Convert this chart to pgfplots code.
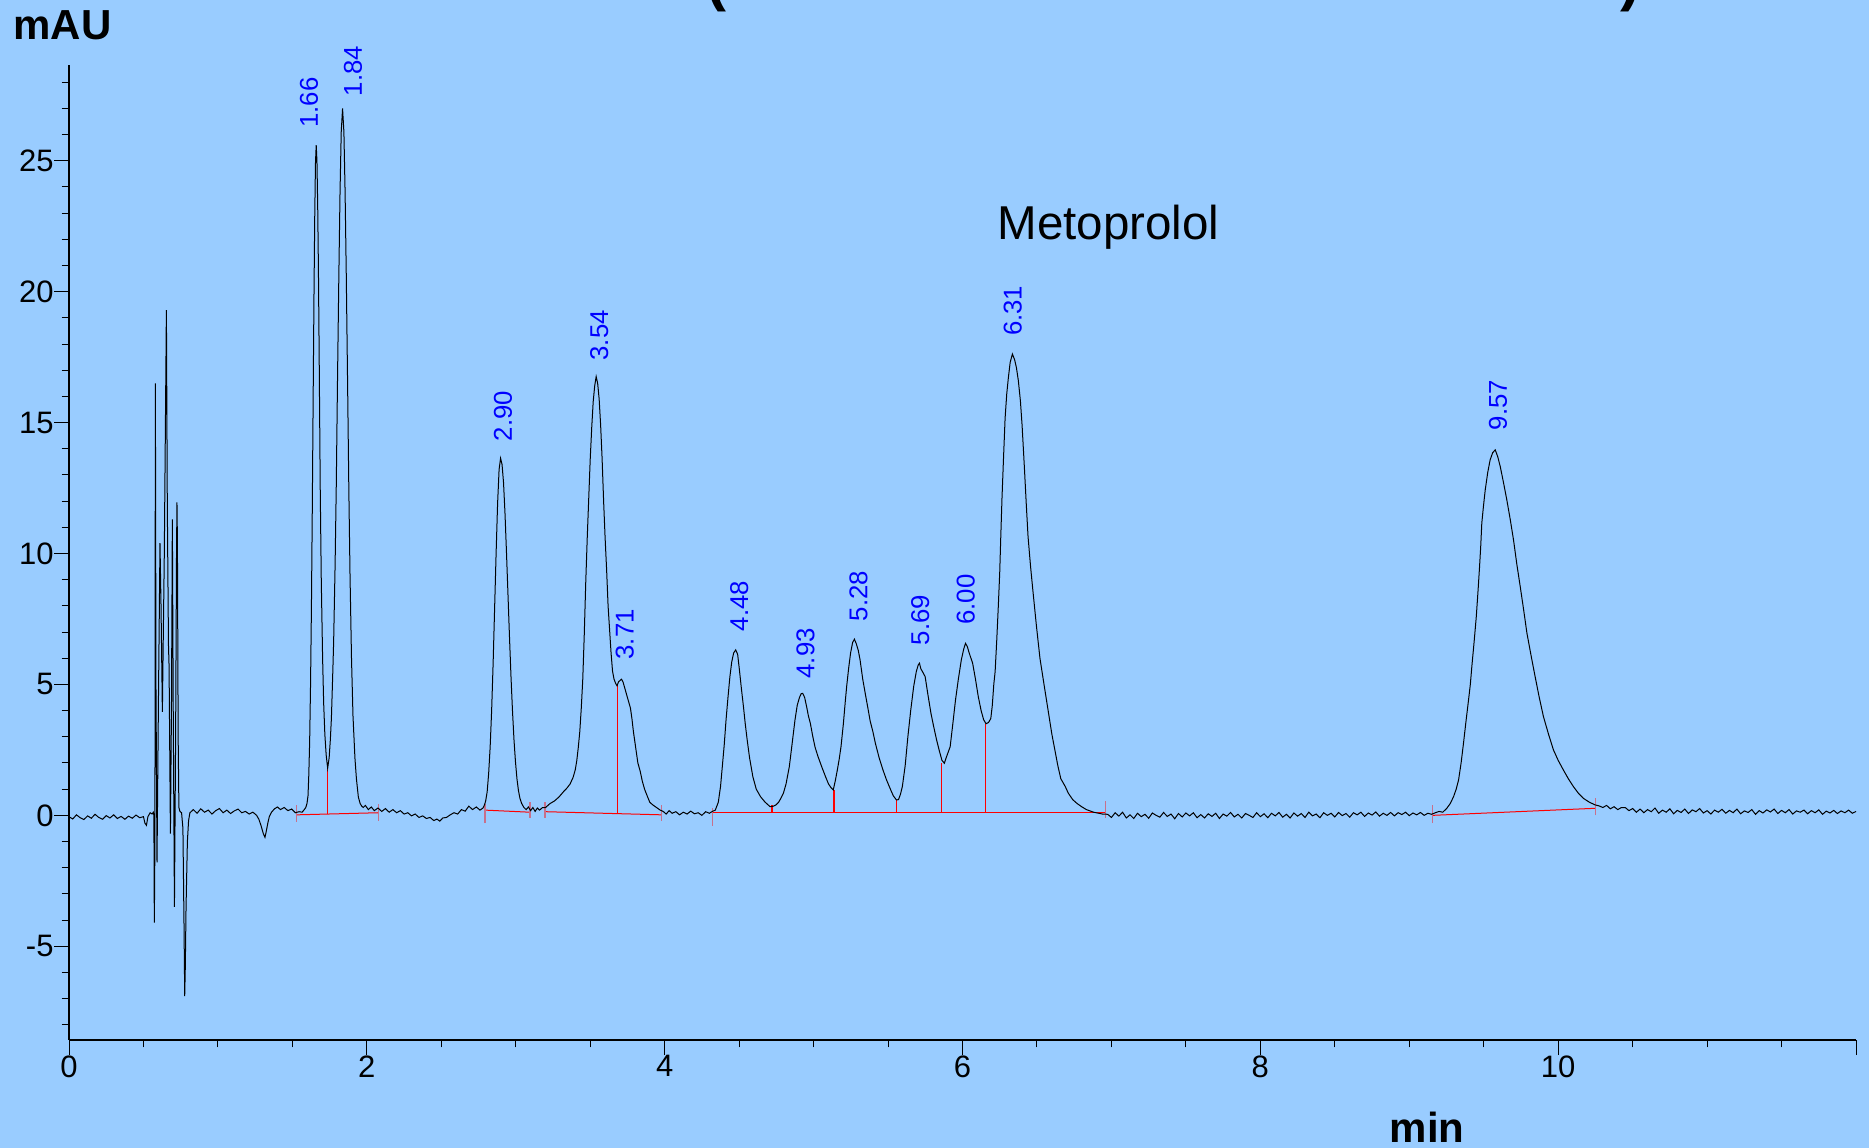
\documentclass[border=0pt]{standalone}
\usepackage{fontspec}
\setmainfont{Liberation Sans}
\usepackage{pgfplots}
\pgfplotsset{compat=1.18}
\definecolor{chartbg}{RGB}{153,204,255}
\definecolor{intred}{RGB}{255,0,0}
\definecolor{rtblue}{RGB}{0,0,255}
\colorlet{endmark}{intred!45!chartbg}

\newcommand{\rt}[3]{\node[rotate=90, anchor=west, inner sep=0pt, text=rtblue,
  font=\fontsize{10.3}{12}\selectfont] at (axis cs:#1,#2) {#3};}

\begin{document}
\begin{tikzpicture}[x=0.4pt,y=0.4pt]
\useasboundingbox (0,0) rectangle (1869,1148);
\fill[chartbg] (0,0) rectangle (1869,1148);

% title brackets: only their lower ends fall on the page
\node[anchor=base west, inner sep=0pt, font=\fontsize{24}{28}\selectfont\bfseries] at (706,1148) {(};
\node[anchor=base west, inner sep=0pt, font=\fontsize{24}{28}\selectfont\bfseries] at (1620,1148) {)};

% axis units
\node[anchor=base west, inner sep=0pt, font=\fontsize{16.8}{20}\selectfont\bfseries] at (13,1108) {mAU};
\node[anchor=base, inner sep=0pt, font=\fontsize{16.8}{20}\selectfont\bfseries] at (1427,5) {min};

\begin{axis}[
  at={(27.6pt,43.2pt)}, anchor=south west,
  scale only axis, width=714.8pt, height=390pt,
  xmin=0, xmax=12, ymin=-8.58, ymax=28.66,
  clip=false,
  axis x line*=bottom, axis y line*=left,
  x axis line style={-, line width=0.8pt},
  y axis line style={-, line width=0.5pt},
  xtick={0,2,...,12}, xticklabels={0,2,4,6,8,10,{}},
  minor xtick={0,0.5,...,12},
  ytick={-5,0,...,25},
  minor ytick={-8,-7,...,28},
  tick align=outside,
  major tick length=6pt, minor tick length=3pt,
  every tick/.style={black, line width=0.4pt},
  tick label style={font=\fontsize{12.4}{14}\selectfont, inner sep=0pt},
  /pgf/number format/assume math mode=true,
]

% integration baselines
\addplot[intred, line width=0.4pt] coordinates {(1.53,0.02)(2.078,0.1)};
\addplot[intred, line width=0.4pt] coordinates {(2.794,0.2)(3.096,0.12)};
\addplot[intred, line width=0.4pt] coordinates {(3.197,0.14)(3.98,0.02)};
\addplot[intred, line width=0.4pt] coordinates {(4.323,0.12)(6.96,0.12)};
\addplot[intred, line width=0.4pt] coordinates {(9.156,0.0)(10.25,0.27)};
% drop lines between fused peaks
\addplot[intred, line width=0.5pt] coordinates {(1.737,0.05)(1.737,1.8)};
\addplot[intred, line width=0.5pt] coordinates {(3.683,0.07)(3.683,5.0)};
\addplot[intred, line width=0.5pt] coordinates {(4.72,0.12)(4.72,0.38)};
\addplot[intred, line width=0.5pt] coordinates {(5.137,0.12)(5.137,0.97)};
\addplot[intred, line width=0.5pt] coordinates {(5.557,0.12)(5.557,0.59)};
\addplot[intred, line width=0.5pt] coordinates {(5.86,0.12)(5.86,2.0)};
\addplot[intred, line width=0.5pt] coordinates {(6.152,0.12)(6.152,3.5)};
% peak start/end marks
\addplot[endmark, line width=0.5pt] coordinates {(1.53,-0.25)(1.53,0.4)};
\addplot[endmark, line width=0.5pt] coordinates {(2.078,-0.2)(2.078,0.45)};
\addplot[endmark, line width=0.5pt] coordinates {(2.794,-0.3)(2.794,0.45)};
\addplot[endmark, line width=0.5pt] coordinates {(3.096,-0.1)(3.096,0.5)};
\addplot[endmark, line width=0.5pt] coordinates {(3.197,-0.1)(3.197,0.5)};
\addplot[endmark, line width=0.5pt] coordinates {(3.98,-0.2)(3.98,0.4)};
\addplot[endmark, line width=0.5pt] coordinates {(4.323,-0.4)(4.323,0.3)};
\addplot[endmark, line width=0.5pt] coordinates {(6.96,-0.1)(6.96,0.55)};
\addplot[endmark, line width=0.5pt] coordinates {(9.156,-0.3)(9.156,0.4)};
\addplot[endmark, line width=0.5pt] coordinates {(10.25,0.0)(10.25,0.65)};

% detector trace
\addplot[black, line width=0.4pt, mark=none] coordinates {
(0,-0.05)(0.025,-0.14)(0.05,0.02)(0.075,-0.09)(0.1,-0.16)(0.125,-0.02)(0.15,-0.11)(0.175,0.04)(0.2,-0.08)(0.225,-0.15)(0.25,-0.01)(0.275,-0.1)(0.3,0.02)(0.325,-0.12)(0.35,-0.04)(0.375,-0.15)(0.4,-0.03)(0.425,-0.11)(0.45,0.01)(0.475,-0.09)(0.5,-0.05)(0.51,-0.3)(0.52,-0.38)(0.53,-0.05)(0.545,0.1)(0.558,0.05)(0.566,0.12)
(0.570,0.0)(0.573,-4.1)(0.577,-1.0)(0.580,16.5)(0.584,5.0)(0.591,-1.8)(0.600,4.0)(0.611,10.4)(0.618,8.0)(0.627,3.95)(0.640,10.0)(0.654,19.3)(0.660,12.0)(0.668,6.5)(0.672,5.7)(0.681,-0.7)(0.688,4.0)(0.694,11.3)(0.700,4.0)(0.708,-3.5)(0.716,3.0)(0.722,10.0)(0.725,11.95)(0.728,10.5)(0.733,3.0)(0.738,0.3)(0.745,0.15)(0.756,0.1)(0.765,-0.5)(0.772,-4.0)(0.777,-6.9)(0.781,-5.8)(0.786,-3.5)(0.795,-1.0)(0.803,-0.2)(0.812,0.1)
(0.835,0.22)(0.86,0.08)(0.885,0.25)(0.91,0.12)(0.935,0.2)(0.96,0.05)(0.985,0.18)(1.01,0.26)(1.035,0.1)(1.06,0.2)(1.085,0.07)(1.11,0.17)(1.135,0.24)(1.16,0.1)(1.185,0.15)(1.21,0.05)(1.235,0.12)(1.26,0.0)(1.275,-0.15)(1.29,-0.4)(1.305,-0.7)(1.316,-0.84)(1.325,-0.6)(1.335,-0.3)(1.345,-0.05)(1.36,0.12)(1.38,0.25)(1.4,0.32)(1.42,0.22)(1.445,0.3)(1.47,0.18)(1.495,0.24)(1.52,0.1)(1.545,0.14)(1.565,0.12)(1.58,0.22)(1.59,0.3)
(1.598,0.45)(1.605,0.75)(1.61,1.5)(1.616,2.8)(1.622,5.0)(1.628,8.0)(1.634,11.9)(1.64,16.3)(1.645,19.8)(1.65,22.8)(1.655,24.9)(1.66,25.6)(1.665,25.0)(1.67,23.3)(1.675,20.8)(1.68,17.5)(1.687,12.5)(1.694,9.0)(1.703,6.0)(1.71,4.3)(1.718,3.1)(1.727,2.3)(1.737,1.8)(1.747,2.2)(1.755,2.9)(1.762,3.7)(1.77,5.2)(1.777,6.6)(1.787,9.6)(1.795,12.7)(1.803,16.6)(1.812,20.6)(1.82,23.8)(1.828,26.1)(1.837,27.0)(1.846,26.1)(1.854,23.8)(1.862,20.6)(1.871,16.4)(1.879,12.5)(1.887,9.2)(1.897,6.0)(1.907,3.8)(1.92,2.2)(1.93,1.4)(1.943,0.7)(1.955,0.45)(1.966,0.35)(1.976,0.3)
(1.99,0.38)(2.01,0.22)(2.03,0.32)(2.05,0.18)(2.075,0.28)(2.1,0.15)(2.125,0.26)(2.15,0.12)(2.175,0.22)(2.2,0.1)(2.225,0.18)(2.25,0.05)(2.275,0.1)(2.3,-0.02)(2.325,0.05)(2.35,-0.08)(2.375,-0.02)(2.4,-0.12)(2.425,-0.08)(2.45,-0.2)(2.47,-0.14)(2.49,-0.22)(2.51,-0.1)(2.535,-0.08)(2.56,0.02)(2.585,0.1)(2.61,0.05)(2.635,0.22)(2.66,0.16)(2.685,0.35)(2.71,0.22)(2.735,0.32)(2.76,0.2)(2.78,0.28)(2.79,0.4)
(2.798,0.55)(2.808,0.9)(2.818,1.6)(2.828,2.6)(2.838,4.0)(2.848,5.8)(2.858,7.9)(2.868,10.0)(2.878,11.9)(2.888,13.2)(2.898,13.64)(2.908,13.4)(2.918,12.7)(2.928,11.5)(2.938,10.0)(2.948,8.4)(2.958,6.8)(2.968,5.3)(2.978,4.0)(2.988,2.9)(2.998,2.05)(3.008,1.4)(3.018,0.95)(3.028,0.65)(3.04,0.45)(3.055,0.3)(3.07,0.22)(3.085,0.32)(3.1,0.18)(3.115,0.3)(3.13,0.15)(3.145,0.28)(3.16,0.2)(3.18,0.3)
(3.2,0.3)(3.23,0.45)(3.26,0.55)(3.29,0.7)(3.32,0.9)(3.345,1.05)(3.365,1.2)(3.385,1.45)(3.4,1.75)(3.41,2.1)(3.42,2.6)(3.43,3.2)(3.44,4.1)(3.45,5.2)(3.46,6.9)(3.47,8.9)(3.48,10.6)(3.49,12.1)(3.5,13.6)(3.51,14.8)(3.52,15.8)(3.53,16.4)(3.54,16.76)(3.55,16.5)(3.56,15.9)(3.57,14.9)(3.58,13.6)(3.59,12.0)(3.6,10.6)(3.61,9.4)(3.62,8.0)(3.63,7.1)(3.64,6.2)(3.65,5.5)(3.66,5.2)(3.67,5.05)(3.68,4.95)(3.69,5.1)(3.7,5.15)(3.71,5.2)(3.72,5.1)(3.73,4.9)(3.74,4.7)(3.75,4.5)(3.76,4.3)(3.77,4.1)(3.78,3.7)(3.79,3.2)(3.8,2.8)(3.81,2.4)(3.82,2.0)(3.835,1.7)(3.85,1.3)(3.865,1.0)(3.88,0.78)(3.9,0.5)(3.92,0.4)(3.945,0.3)(3.97,0.2)
(3.99,0.15)(4.01,0.05)(4.03,0.18)(4.05,0.08)(4.075,0.14)(4.1,0.02)(4.125,0.12)(4.15,0.05)(4.175,0.16)(4.2,0.06)(4.225,0.1)(4.25,0.0)(4.275,0.14)(4.3,0.08)(4.32,0.15)
(4.34,0.2)(4.36,0.5)(4.375,1.1)(4.387,1.86)(4.4,2.7)(4.412,3.64)(4.425,4.5)(4.438,5.3)(4.45,5.85)(4.463,6.2)(4.477,6.32)(4.49,6.15)(4.502,5.55)(4.515,4.85)(4.529,4.15)(4.541,3.5)(4.554,2.88)(4.57,2.2)(4.592,1.48)(4.615,1.0)(4.644,0.71)(4.675,0.5)(4.708,0.33)(4.73,0.35)(4.747,0.4)
(4.765,0.5)(4.78,0.65)(4.797,0.84)(4.815,1.2)(4.837,1.86)(4.855,2.7)(4.875,3.64)(4.89,4.2)(4.905,4.5)(4.917,4.65)(4.927,4.66)(4.94,4.5)(4.955,4.1)(4.965,3.8)(4.978,3.52)(4.995,3.0)(5.01,2.6)(5.03,2.24)(5.055,1.85)(5.08,1.48)(5.1,1.2)(5.118,1.05)(5.132,0.97)
(5.145,1.3)(5.16,1.75)(5.172,2.15)(5.184,2.62)(5.2,3.5)(5.212,4.3)(5.222,4.92)(5.235,5.6)(5.248,6.19)(5.262,6.6)(5.274,6.73)(5.287,6.55)(5.3,6.3)(5.312,5.94)(5.33,5.2)(5.347,4.65)(5.363,4.15)(5.38,3.6)(5.398,3.2)(5.415,2.75)(5.44,2.2)(5.466,1.73)(5.49,1.35)(5.518,0.97)(5.535,0.75)(5.556,0.59)
(5.57,0.6)(5.583,0.8)(5.596,1.1)(5.615,1.9)(5.633,3.0)(5.652,4.0)(5.672,4.92)(5.69,5.5)(5.703,5.75)(5.711,5.81)(5.72,5.6)(5.735,5.45)(5.749,5.3)(5.768,4.6)(5.788,3.9)(5.806,3.4)(5.826,2.88)(5.845,2.45)(5.862,2.1)(5.878,1.99)
(5.89,2.2)(5.903,2.4)(5.917,2.62)(5.935,3.5)(5.953,4.41)(5.972,5.2)(5.992,5.94)(6.008,6.35)(6.02,6.57)(6.032,6.45)(6.045,6.2)(6.068,5.81)(6.087,5.2)(6.106,4.53)(6.125,4.0)(6.142,3.65)(6.158,3.5)
(6.175,3.55)(6.19,3.7)(6.2,4.2)(6.21,5.0)(6.219,5.49)(6.23,6.7)(6.241,8.07)(6.25,9.3)(6.257,10.65)(6.265,12.1)(6.275,13.6)(6.286,15.17)(6.297,16.1)(6.308,16.72)(6.32,17.3)(6.335,17.62)(6.35,17.4)(6.362,17.1)(6.375,16.6)(6.389,15.81)(6.4,14.9)(6.416,13.23)(6.428,11.9)(6.44,10.65)(6.457,9.5)(6.474,8.5)(6.497,7.2)(6.52,6.0)(6.55,4.9)(6.575,4.0)(6.6,3.1)(6.62,2.5)(6.64,1.9)(6.66,1.4)(6.69,1.1)(6.71,0.85)(6.74,0.6)(6.77,0.45)(6.8,0.33)(6.832,0.22)(6.88,0.12)(6.94,0.05)
(6.975,0.04)(7.0,-0.08)(7.025,0.1)(7.05,-0.03)(7.075,0.12)(7.1,-0.1)(7.125,0.02)(7.15,-0.12)(7.175,0.08)(7.2,-0.05)(7.225,0.04)(7.25,-0.11)(7.275,0.09)(7.3,0.0)(7.325,-0.07)(7.35,0.11)(7.375,-0.04)(7.4,0.05)(7.425,-0.13)(7.45,0.07)(7.475,-0.06)(7.5,0.09)(7.525,-0.02)(7.55,0.1)(7.575,-0.09)(7.6,0.03)(7.625,-0.1)(7.65,0.06)(7.675,-0.04)(7.7,0.08)(7.725,-0.12)(7.75,0.05)(7.775,-0.03)(7.8,0.11)(7.825,-0.06)(7.85,0.04)(7.875,-0.1)(7.9,0.07)(7.925,0.0)(7.95,-0.08)(7.975,0.1)
(8.0,-0.05)(8.025,0.06)(8.05,-0.09)(8.075,0.08)(8.1,-0.02)(8.125,0.11)(8.15,-0.07)(8.175,0.04)(8.2,-0.1)(8.225,0.09)(8.25,-0.03)(8.275,0.07)(8.3,-0.08)(8.325,0.12)(8.35,-0.02)(8.375,0.05)(8.4,-0.09)(8.425,0.1)(8.45,0.0)(8.475,0.08)(8.5,-0.06)(8.525,0.11)(8.55,-0.01)(8.575,0.07)(8.6,-0.07)(8.625,0.1)(8.65,0.02)(8.675,0.12)(8.7,-0.04)(8.725,0.09)(8.75,0.01)(8.775,0.13)(8.8,-0.03)(8.825,0.08)(8.85,0.0)(8.875,0.11)(8.9,-0.02)(8.925,0.1)(8.95,0.03)(8.975,0.12)(9.0,-0.01)(9.025,0.09)(9.05,0.02)(9.075,0.11)(9.1,0.0)(9.125,0.08)(9.15,0.04)
(9.175,0.1)(9.2,0.15)(9.225,0.12)(9.252,0.27)(9.275,0.45)(9.297,0.71)(9.315,1.0)(9.331,1.35)(9.348,2.0)(9.364,2.75)(9.38,3.55)(9.398,4.41)(9.41,5.0)(9.42,5.68)(9.435,6.6)(9.45,7.59)(9.462,8.6)(9.472,9.5)(9.48,10.3)(9.487,11.16)(9.498,11.8)(9.51,12.43)(9.527,13.1)(9.543,13.58)(9.56,13.85)(9.577,13.96)(9.594,13.7)(9.611,13.32)(9.633,12.7)(9.655,12.05)(9.678,11.3)(9.7,10.52)(9.722,9.6)(9.745,8.74)(9.768,7.85)(9.79,6.96)(9.818,6.1)(9.845,5.3)(9.873,4.5)(9.901,3.77)(9.935,3.1)(9.968,2.5)(10.0,2.1)(10.035,1.73)(10.068,1.4)(10.102,1.1)(10.135,0.85)(10.169,0.65)(10.21,0.5)(10.248,0.4)(10.275,0.36)(10.3,0.3)(10.325,0.38)(10.35,0.25)(10.375,0.33)(10.4,0.22)(10.425,0.3)
(10.45,0.3)(10.475,0.18)(10.5,0.26)(10.525,0.12)(10.55,0.24)(10.575,0.1)(10.6,0.22)(10.625,0.14)(10.65,0.28)(10.675,0.08)(10.7,0.2)(10.725,0.12)(10.75,0.25)(10.775,0.06)(10.8,0.19)(10.825,0.11)(10.85,0.24)(10.875,0.07)(10.9,0.21)(10.925,0.14)(10.95,0.26)(10.975,0.09)(11.0,0.18)(11.025,0.05)(11.05,0.2)(11.075,0.12)(11.1,0.23)(11.125,0.08)(11.15,0.19)(11.175,0.1)(11.2,0.24)(11.225,0.06)(11.25,0.17)(11.275,0.11)(11.3,0.22)(11.325,0.04)(11.35,0.18)(11.375,0.09)(11.4,0.21)(11.425,0.13)(11.45,0.24)(11.475,0.07)(11.5,0.19)(11.525,0.1)(11.55,0.22)(11.575,0.05)(11.6,0.17)(11.625,0.12)(11.65,0.2)(11.675,0.06)(11.7,0.18)(11.725,0.1)(11.75,0.21)(11.775,0.04)(11.8,0.16)(11.825,0.09)(11.85,0.19)(11.875,0.07)(11.9,0.17)(11.925,0.1)(11.95,0.2)(11.975,0.08)(12.0,0.15)
};

% retention times
\rt{1.612}{26.25}{1.66}
\rt{1.907}{27.45}{1.84}
\rt{2.915}{14.27}{2.90}
\rt{3.56}{17.36}{3.54}
\rt{3.732}{5.94}{3.71}
\rt{4.50}{7.02}{4.48}
\rt{4.946}{5.21}{4.93}
\rt{5.302}{7.40}{5.28}
\rt{5.717}{6.48}{5.69}
\rt{6.021}{7.27}{6.00}
\rt{6.337}{18.29}{6.31}
\rt{9.596}{14.69}{9.57}

\node[anchor=base west, inner sep=0pt, font=\fontsize{19}{22}\selectfont] at (axis cs:6.232,21.98) {Metoprolol};
\end{axis}
\end{tikzpicture}
\end{document}
